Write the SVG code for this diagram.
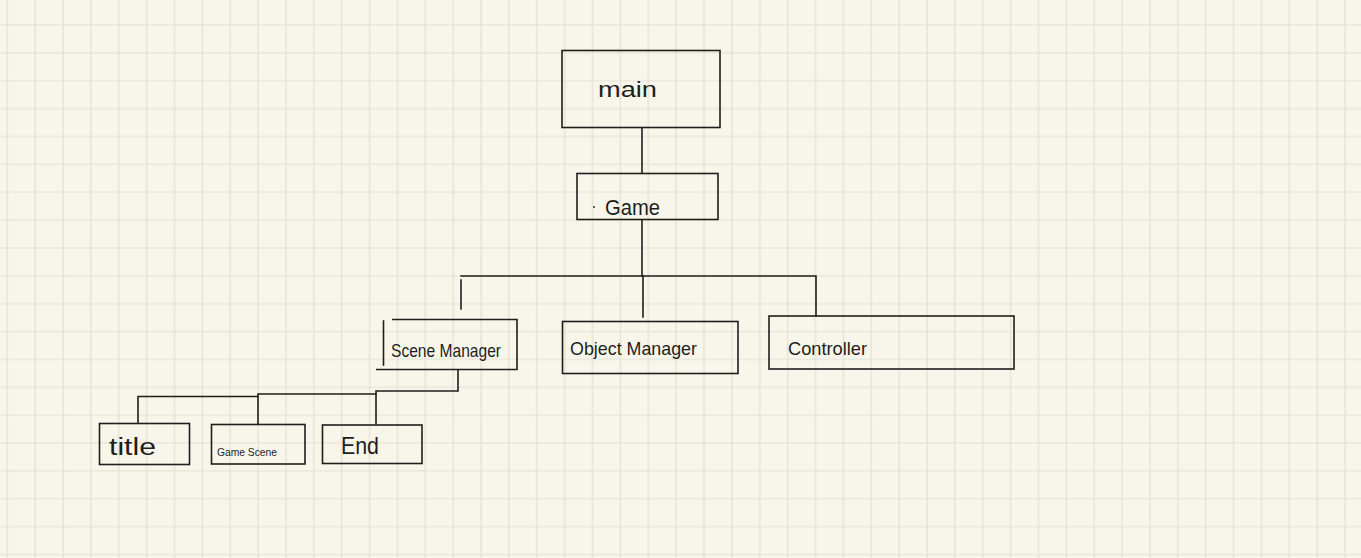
<svg xmlns="http://www.w3.org/2000/svg" width="1361" height="558" viewBox="0 0 1361 558">
<style>
.ln{stroke:#1e1e1e;stroke-width:1.6;fill:none;stroke-linecap:square}
.bx{stroke:#1e1e1e;stroke-width:1.6;fill:none}
.t{font-family:"Liberation Sans",Arial,sans-serif;fill:#1e1e1e}
</style>
<defs>
<pattern id="grid" patternUnits="userSpaceOnUse" x="6.3" y="24" width="27.87" height="27.87">
<path d="M1 0V27.87M0 1H27.87" stroke="#e2dfd3" stroke-width="1.2" fill="none"/>
</pattern>
</defs>
<rect width="1361" height="558" fill="#f8f6ea"/>
<rect width="1361" height="558" fill="url(#grid)"/>
<g id="connectors">
<path class="ln" d="M642 128V173"/>
<path class="ln" d="M642 220V276"/>
<path class="ln" d="M461 276H816V316"/>
<path class="ln" d="M643 276V317"/>
<path class="ln" d="M461 280V309"/>
<path class="ln" d="M458 370V391H376V424"/>
<path class="ln" d="M376 394H258V424"/>
<path class="ln" d="M258 396.5H138V423"/>
</g>
<g id="main">
<rect class="bx" x="562" y="50.5" width="158" height="77"/>
<text class="t" x="598" y="97" font-size="22" textLength="59" lengthAdjust="spacingAndGlyphs">main</text>
</g>
<g id="game">
<rect class="bx" x="577" y="173.5" width="141" height="46"/>
<circle cx="594" cy="207" r="0.9" fill="#1e1e1e"/>
<text class="t" x="605" y="215" font-size="22" textLength="55" lengthAdjust="spacingAndGlyphs">Game</text>
</g>
<g id="scene-manager">
<path class="bx" d="M392 319.5H517V369.5H376"/>
<path class="ln" d="M383.5 321V365"/>
<text class="t" x="391" y="357" font-size="19" textLength="110" lengthAdjust="spacingAndGlyphs">Scene Manager</text>
</g>
<g id="object-manager">
<rect class="bx" x="562.5" y="321.5" width="175.5" height="52"/>
<text class="t" x="570" y="355" font-size="19" textLength="127" lengthAdjust="spacingAndGlyphs">Object Manager</text>
</g>
<g id="controller">
<rect class="bx" x="769" y="316" width="245" height="53"/>
<text class="t" x="788" y="355" font-size="19" textLength="79" lengthAdjust="spacingAndGlyphs">Controller</text>
</g>
<g id="title">
<rect class="bx" x="99.5" y="423.5" width="90" height="41"/>
<text class="t" x="109" y="455" font-size="23" textLength="47" lengthAdjust="spacingAndGlyphs">title</text>
</g>
<g id="game-scene">
<rect class="bx" x="211.5" y="424.5" width="93.5" height="39.5"/>
<text class="t" x="217" y="456" font-size="11" textLength="60" lengthAdjust="spacingAndGlyphs">Game Scene</text>
</g>
<g id="end">
<rect class="bx" x="322.5" y="425" width="99.5" height="38.5"/>
<text class="t" x="341" y="454" font-size="24" textLength="38" lengthAdjust="spacingAndGlyphs">End</text>
</g>
</svg>
